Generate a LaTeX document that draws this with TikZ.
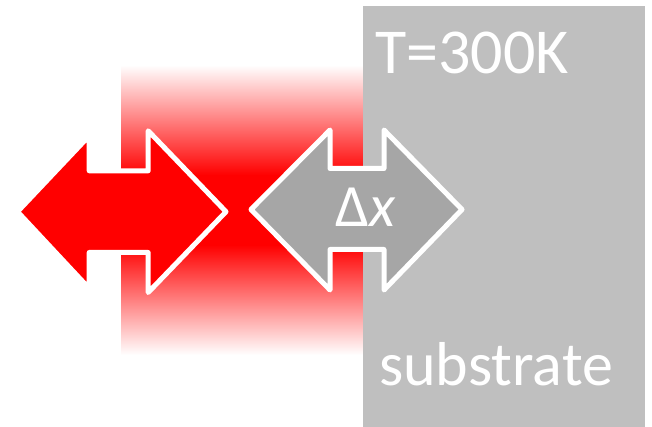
\documentclass[tikz,border=0pt]{standalone}
\usepackage{fontspec}
\setmainfont{Carlito}
\pgfdeclareverticalshading{redband}{100bp}{color(0bp)=(white); color(25bp)=(white); color(44bp)=(red); color(56bp)=(red); color(75bp)=(white); color(100bp)=(white)}
\definecolor{substrategray}{HTML}{BFBFBF}
\definecolor{arrowgray}{HTML}{A6A6A6}
\begin{document}
\begin{tikzpicture}[x=1pt,y=-1pt,
  arrowshape/.style={draw=white, line width=5pt, line join=round},
  bigtext/.style={text=white, inner sep=0pt, anchor=base west}]
\useasboundingbox (0,0) rectangle (652,427);
% red gradient band
\shade[shading=redband] (121,65) rectangle (363,355);
% substrate
\fill[substrategray] (363,6) rectangle (645,427);
% red double arrow
\filldraw[arrowshape, fill=red]
  (17.5,211.7) -- (89.2,135.8) -- (89.2,170.8) -- (148.2,170.8) -- (148.2,130.8)
  -- (226,211.7) -- (148.2,292.5) -- (148.2,252.5) -- (89.2,252.5) -- (89.2,288.5) -- cycle;
% gray double arrow
\filldraw[arrowshape, fill=arrowgray]
  (251,209.5) -- (330,130) -- (330,168.5) -- (384,168.5) -- (384,130)
  -- (462,209.5) -- (384,290) -- (384,249.5) -- (330,249.5) -- (330,290) -- cycle;
% texts
\node[bigtext, font=\fontsize{64}{76}\selectfont] (temp) at (375,74) {T=300K};
\node[bigtext, font=\fontsize{62}{74}\selectfont] (sub) at (379,385) {substrate};
\node[bigtext, font=\fontsize{60}{72}\selectfont] (dx) at (335,227) {Δ\textit{x}};
\end{tikzpicture}
\end{document}
